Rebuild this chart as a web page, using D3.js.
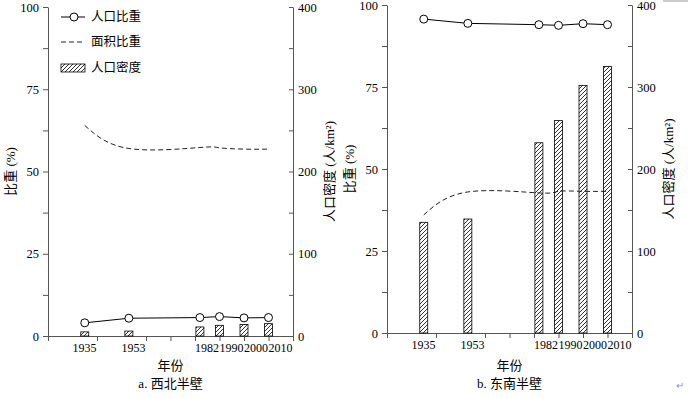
<!DOCTYPE html>
<html lang="zh">
<head>
<meta charset="utf-8">
<title>人口比重、面积比重与人口密度</title>
<script src="https://d3js.org/d3.v7.min.js"></script>
<style>
  body { margin: 0; background: #fff; }
  svg text { font-family: "Liberation Serif", "Times New Roman", "Noto Sans CJK SC", serif; fill: #000; }
  .axis path, .axis line { stroke: #555; stroke-width: 1; }
  .axis text { font-size: 12.5px; }
</style>
</head>
<body>
<svg id="chart" width="688" height="398"></svg>
<script>
// years on the x axis
var years = [1935, 1953, 1982, 1990, 2000, 2010];

// a. 西北半壁
var nwPopShare  = [4.0, 5.4, 5.6, 5.9, 5.5, 5.6];
var nwAreaShare = [64.0, 57.0, 57.3, 57.2, 56.8, 56.8];
var nwDensity   = [5, 6, 11, 13, 14, 15];

// b. 东南半壁
var sePopShare  = [95.7, 94.4, 94.0, 93.8, 94.3, 94.0];
var seAreaShare = [36.0, 43.0, 42.7, 43.2, 43.2, 43.2];
var seDensity   = [135, 139, 232, 259, 302, 325];

var xTicks = [1920, 1940, 1960, 1970, 1980, 1990, 2000, 2010, 2020];
var shareTicks = [0, 12.5, 25, 37.5, 50, 62.5, 75, 87.5, 100];
var densTicks = [0, 50, 100, 150, 200, 250, 300, 350, 400];
var legendLabels = ["人口比重", "面积比重", "人口密度"];

var svg = d3.select("#chart");

// hatch for the density bars
var pat = svg.append("defs").append("pattern")
    .attr("id", "hatch")
    .attr("patternUnits", "userSpaceOnUse")
    .attr("width", 4).attr("height", 4);
pat.append("rect").attr("width", 4).attr("height", 4).attr("fill", "#fff");
pat.append("path")
    .attr("d", "M-1,1 l2,-2 M0,4 l4,-4 M3,5 l2,-2")
    .attr("stroke", "#000").attr("stroke-width", 0.8);

function drawPanel(cfg) {
    var x = d3.scaleLinear().domain([1920, 2020]).range([cfg.x0, cfg.x1]);
    var y = d3.scaleLinear().domain([0, 100]).range([cfg.yBot, cfg.yTop]);
    var y2 = d3.scaleLinear().domain([0, 400]).range([cfg.yBot, cfg.yTop]);
    var g = svg.append("g");

    // axes
    g.append("g").attr("class", "axis")
        .attr("transform", "translate(" + cfg.x0 + ",0)")
        .call(d3.axisLeft(y).tickValues(shareTicks).tickSize(5).tickSizeOuter(0).tickPadding(4)
            .tickFormat(function(d) { return d % 25 === 0 ? d : ""; }));

    g.append("g").attr("class", "axis")
        .attr("transform", "translate(" + cfg.x1 + ",0)")
        .call(d3.axisRight(y2).tickValues(densTicks).tickSize(-4).tickSizeOuter(0).tickPadding(5)
            .tickFormat(function(d) { return d % 100 === 0 ? d : ""; }));

    g.append("g").attr("class", "axis")
        .attr("transform", "translate(0," + cfg.yBot + ")")
        .call(d3.axisBottom(x).tickValues(xTicks).tickSize(5).tickSizeOuter(0).tickFormat(""));

    // year labels, start-anchored at their decade tick, pushed right so they don't overlap
    var prevRight = -Infinity;
    g.selectAll("text.year").data(years).enter().append("text")
        .attr("class", "year")
        .attr("y", cfg.yBot + 16)
        .attr("font-size", "12px")
        .text(function(d) { return d; })
        .each(function(d) {
            var w = this.getComputedTextLength();
            var left = Math.max(x(Math.floor(d / 10) * 10), prevRight + 0.5);
            d3.select(this).attr("x", left);
            prevRight = left + w;
        });

    // density bars
    g.selectAll("rect.bar").data(cfg.dens).enter().append("rect")
        .attr("class", "bar")
        .attr("x", function(d, i) { return x(years[i]) - 4; })
        .attr("width", 8)
        .attr("y", function(d) { return y2(d); })
        .attr("height", function(d) { return cfg.yBot - y2(d); })
        .attr("fill", "url(#hatch)")
        .attr("stroke", "#000").attr("stroke-width", 0.8);

    // area share, dashed
    var areaLine = d3.line()
        .x(function(d, i) { return x(years[i]); })
        .y(function(d) { return y(d); })
        .curve(d3.curveNatural);
    g.append("path").datum(cfg.area)
        .attr("d", areaLine)
        .attr("fill", "none").attr("stroke", "#222")
        .attr("stroke-width", 1).attr("stroke-dasharray", "5,3");

    // population share, line + open circles
    var popLine = d3.line()
        .x(function(d, i) { return x(years[i]); })
        .y(function(d) { return y(d); });
    g.append("path").datum(cfg.pop)
        .attr("d", popLine)
        .attr("fill", "none").attr("stroke", "#000").attr("stroke-width", 1);
    g.selectAll("circle.pop").data(cfg.pop).enter().append("circle")
        .attr("class", "pop")
        .attr("cx", function(d, i) { return x(years[i]); })
        .attr("cy", function(d) { return y(d); })
        .attr("r", 4)
        .attr("fill", "#fff").attr("stroke", "#000").attr("stroke-width", 1);

    // axis titles
    var cy = (cfg.yTop + cfg.yBot) / 2;
    g.append("text")
        .attr("transform", "translate(" + (cfg.x0 - 38) + "," + cy + ") rotate(-90)")
        .attr("text-anchor", "middle").attr("dominant-baseline", "central")
        .attr("font-size", "13px")
        .text("比重 (%)");
    g.append("text")
        .attr("transform", "translate(" + (cfg.x1 + 36) + "," + cy + ") rotate(-90)")
        .attr("text-anchor", "middle").attr("dominant-baseline", "central")
        .attr("font-size", "13px")
        .text("人口密度 (人/km²)");

    var cx = (cfg.x0 + cfg.x1) / 2;
    g.append("text").attr("x", cx).attr("y", 370)
        .attr("text-anchor", "middle").attr("font-size", "13px").text("年份");
    g.append("text").attr("x", cx).attr("y", 388)
        .attr("text-anchor", "middle").attr("font-size", "13px").text(cfg.caption);
}

drawPanel({ x0: 48, x1: 293, yTop: 7, yBot: 336,
    pop: nwPopShare, area: nwAreaShare, dens: nwDensity, caption: "a. 西北半壁" });
drawPanel({ x0: 387, x1: 632, yTop: 5, yBot: 333,
    pop: sePopShare, area: seAreaShare, dens: seDensity, caption: "b. 东南半壁" });

// legend (left panel only)
var leg = svg.append("g").attr("transform", "translate(61,0)");
var rowY = [17, 42, 68];
leg.append("line").attr("x1", 0).attr("x2", 24).attr("y1", rowY[0]).attr("y2", rowY[0])
    .attr("stroke", "#000");
leg.append("circle").attr("cx", 13).attr("cy", rowY[0]).attr("r", 4)
    .attr("fill", "#fff").attr("stroke", "#000");
leg.append("line").attr("x1", 0).attr("x2", 24).attr("y1", rowY[1]).attr("y2", rowY[1])
    .attr("stroke", "#222").attr("stroke-dasharray", "5,3");
leg.append("rect").attr("x", 0).attr("y", rowY[2] - 4).attr("width", 24).attr("height", 8)
    .attr("fill", "url(#hatch)").attr("stroke", "#000").attr("stroke-width", 0.8);
leg.selectAll("text.leg").data(legendLabels).enter().append("text")
    .attr("class", "leg")
    .attr("x", 30)
    .attr("y", function(d, i) { return rowY[i]; })
    .attr("dominant-baseline", "central")
    .attr("font-size", "12.5px")
    .text(function(d) { return d; });

// stray marks from the source document
svg.append("rect").attr("x", 663).attr("y", 0).attr("width", 25).attr("height", 2).attr("fill", "#ccc");
svg.append("text").attr("x", 676).attr("y", 389).attr("font-size", "10px")
    .style("fill", "#999").text("↵");
</script>
</body>
</html>
